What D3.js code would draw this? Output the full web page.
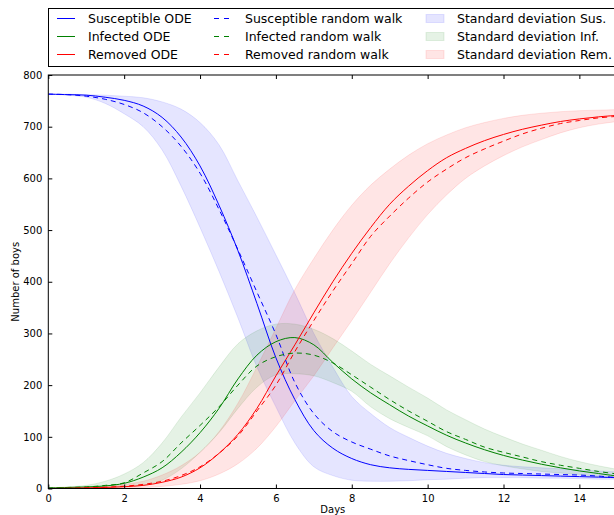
<!DOCTYPE html>
<html>
<head>
<meta charset="utf-8">
<script src="https://cdn.jsdelivr.net/npm/d3@7"></script>
<style>
  body { margin: 0; background: #fff; }
  text { font-family: "DejaVu Sans", sans-serif; }
</style>
</head>
<body>
<div id="chart"></div>
<script>
// values, every half day
var days = [0, 0.5, 1, 1.5, 2, 2.5, 3, 3.5, 4, 4.5, 5, 5.5, 6, 6.5, 7, 7.5, 8, 8.5, 9, 9.5, 10, 10.5, 11, 11.5, 12, 12.5, 13, 13.5, 14, 14.5, 15];

var sOde = [763, 762, 761, 757, 751, 740, 718, 680, 624, 548, 460, 358, 253, 172, 112, 78, 58, 46, 40, 37, 35, 33, 31, 29, 27, 26, 25, 24, 23, 22, 21];
var iOde = [1, 2, 3, 5, 10, 22, 40, 70, 108, 155, 212, 258, 284, 292, 278, 244, 212, 185, 162, 140, 121, 103, 88, 75, 64, 55, 47, 40, 34, 29, 24];
var rOde = [0, 0.5, 1, 2, 3.5, 6, 12, 22, 40, 68, 105, 155, 218, 278, 340, 400, 455, 505, 550, 585, 615, 640, 658, 673, 685, 695, 703, 710, 715, 719, 722];

var sRw = [763, 762, 759, 753, 743, 727, 700, 662, 610, 540, 462, 380, 298, 205, 145, 110, 90, 76, 63, 54, 46, 39, 35, 32, 30, 29, 28, 27, 26, 24, 21];
var iRw = [1, 2, 3, 6, 11, 30, 52, 88, 122, 158, 200, 237, 255, 262, 258, 243, 220, 196, 172, 150, 130, 110, 95, 80, 70, 61, 52, 45, 39, 33, 28];
var rRw = [0, 0.5, 1.5, 2.5, 4.5, 8, 14, 25, 42, 68, 102, 150, 200, 265, 325, 382, 435, 488, 527, 562, 593, 618, 640, 657, 672, 686, 697, 706, 712, 717, 720];

var sHi = [763, 763, 762, 761, 759, 756, 748, 734, 708, 665, 595, 525, 452, 378, 300, 235, 178, 145, 118, 99, 82, 68, 58, 50, 45, 42, 40, 38, 36, 34, 32];
var sLo = [763, 761, 757, 745, 725, 700, 655, 585, 505, 420, 330, 235, 158, 88, 42, 25, 16, 14, 14, 15, 17, 18, 20, 21, 21, 21, 20, 20, 19, 18, 18];
var iHi = [1, 3, 6, 14, 28, 50, 88, 138, 185, 235, 280, 305, 318, 318, 308, 290, 266, 240, 218, 196, 175, 152, 133, 115, 100, 86, 74, 62, 52, 44, 37];
var iLo = [1, 1, 1, 2, 3, 6, 16, 38, 70, 108, 155, 196, 220, 222, 218, 205, 188, 158, 135, 118, 102, 81, 65, 52, 44, 38, 33, 30, 27, 23, 20];
var rHi = [0, 1, 2, 4, 8, 14, 26, 44, 70, 110, 165, 235, 310, 385, 445, 500, 548, 587, 618, 645, 667, 684, 698, 708, 716, 722, 726, 729, 731, 732, 733];
var rLo = [0, 0, 0, 0.5, 1, 2, 4, 8, 15, 28, 48, 78, 120, 170, 218, 272, 325, 380, 435, 485, 530, 568, 600, 624, 644, 661, 675, 688, 698, 705, 710];

var xTicks = [0, 2, 4, 6, 8, 10, 12, 14];
var yTicks = [0, 100, 200, 300, 400, 500, 600, 700, 800];

var legendOde = ["Susceptible ODE", "Infected ODE", "Removed ODE"];
var legendRw = ["Susceptible random walk", "Infected random walk", "Removed random walk"];
var legendSd = ["Standard deviation Sus.", "Standard deviation Inf.", "Standard deviation Rem."];
var colors = ["#0000ff", "#008000", "#ff0000"];

var svgWidth = 614, svgHeight = 515;
var margin = { top: 75, left: 48.3 };
var chartWidth = 569, chartHeight = 413.5;

var svg = d3.select("#chart").append("svg")
  .attr("width", svgWidth)
  .attr("height", svgHeight);

var chartGroup = svg.append("g")
  .attr("transform", `translate(${margin.left}, ${margin.top})`);

var xScale = d3.scaleLinear().domain([0, 15]).range([0, chartWidth]);
var yScale = d3.scaleLinear().domain([0, 800]).range([chartHeight, 0]);

chartGroup.append("clipPath").attr("id", "clip")
  .append("rect").attr("width", chartWidth).attr("height", chartHeight);

var plot = chartGroup.append("g").attr("clip-path", "url(#clip)");
var curve = d3.curveCatmullRom.alpha(0.5);

// bands
var bands = [[sLo, sHi], [iLo, iHi], [rLo, rHi]];
bands.forEach(function(b, k) {
  var area = d3.area()
    .x((d, i) => xScale(days[i]))
    .y0((d, i) => yScale(b[0][i]))
    .y1((d, i) => yScale(b[1][i]))
    .curve(curve);
  plot.append("path")
    .attr("d", area(days))
    .attr("fill", colors[k])
    .attr("fill-opacity", 0.1)
    .attr("stroke", colors[k])
    .attr("stroke-opacity", 0.1)
    .attr("stroke-width", 1);
});

// lines
var odeSeries = [sOde, iOde, rOde];
var rwSeries = [sRw, iRw, rRw];
function drawLine(values, color, dashed) {
  var line = d3.line()
    .x((d, i) => xScale(days[i]))
    .y(d => yScale(d))
    .curve(curve);
  plot.append("path")
    .attr("d", line(values))
    .attr("fill", "none")
    .attr("stroke", color)
    .attr("stroke-width", 1)
    .attr("stroke-dasharray", dashed ? "5,4" : null);
}
odeSeries.forEach((s, k) => drawLine(s, colors[k], false));
rwSeries.forEach((s, k) => drawLine(s, colors[k], true));

// axes, ticks pointing inward
var bottomAxis = d3.axisBottom(xScale).tickValues(xTicks).tickSize(-4).tickPadding(6);
var topAxis = d3.axisTop(xScale).tickValues(xTicks).tickSize(-4).tickFormat("");
var leftAxis = d3.axisLeft(yScale).tickValues(yTicks).tickSize(-4).tickPadding(6);

var gx = chartGroup.append("g")
  .attr("transform", `translate(0, ${chartHeight})`)
  .call(bottomAxis);
var gt = chartGroup.append("g").call(topAxis);
var gy = chartGroup.append("g").call(leftAxis);

[gx, gt, gy].forEach(function(g) {
  g.select(".domain").remove();
  g.selectAll("line").attr("stroke", "#000");
  g.selectAll("text").attr("font-size", "10px").attr("fill", "#000")
    .style("font-family", "'DejaVu Sans', sans-serif");
});
gx.selectAll("text").attr("dy", "0.71em");

chartGroup.append("rect")
  .attr("width", chartWidth)
  .attr("height", chartHeight)
  .attr("fill", "none")
  .attr("stroke", "#000")
  .attr("stroke-width", 1);

// axis labels
svg.append("text")
  .attr("x", margin.left + chartWidth / 2)
  .attr("y", 513)
  .attr("text-anchor", "middle")
  .attr("font-size", "10px")
  .text("Days");

svg.append("text")
  .attr("transform", `translate(19, ${margin.top + chartHeight / 2}) rotate(-90)`)
  .attr("text-anchor", "middle")
  .attr("font-size", "10px")
  .text("Number of boys");

// legend
var legend = svg.append("g");
legend.append("rect")
  .attr("x", 48.5).attr("y", 8.5)
  .attr("width", 580).attr("height", 58)
  .attr("fill", "#fff").attr("stroke", "#000").attr("stroke-width", 1);

var rowY = [18.5, 36.5, 54.5];
var colX = [57, 214, 426];
var textGap = 31;

for (var k = 0; k < 3; k++) {
  legend.append("line")
    .attr("x1", colX[0]).attr("x2", colX[0] + 18)
    .attr("y1", rowY[k]).attr("y2", rowY[k])
    .attr("stroke", colors[k]).attr("stroke-width", 1);
  legend.append("line")
    .attr("x1", colX[1]).attr("x2", colX[1] + 18)
    .attr("y1", rowY[k]).attr("y2", rowY[k])
    .attr("stroke", colors[k]).attr("stroke-width", 1)
    .attr("stroke-dasharray", "5,5");
  legend.append("rect")
    .attr("x", colX[2]).attr("y", rowY[k] - 4)
    .attr("width", 18).attr("height", 8)
    .attr("fill", colors[k]).attr("fill-opacity", 0.1)
    .attr("stroke", colors[k]).attr("stroke-opacity", 0.1);

  [legendOde, legendRw, legendSd].forEach(function(labels, c) {
    legend.append("text")
      .attr("x", colX[c] + textGap)
      .attr("y", rowY[k])
      .attr("dy", "0.35em")
      .attr("font-size", "12.5px")
      .text(labels[k]);
  });
}
</script>
</body>
</html>
